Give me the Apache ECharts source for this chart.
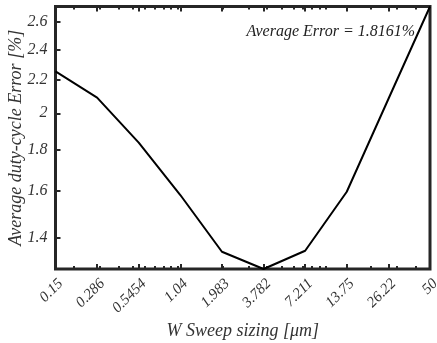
<!DOCTYPE html>
<html>
<head>
<meta charset="utf-8">
<script src="https://cdn.jsdelivr.net/npm/echarts@6/dist/echarts.min.js"></script>
<style>
html,body{margin:0;padding:0;background:#fff;}
#c{width:437px;height:343px;}
</style>
</head>
<body>
<div id="c"></div>
<script>
const xValues = [0.15, 0.286, 0.5454, 1.04, 1.983, 3.782, 7.211, 13.75, 26.22, 50];
const xLabels = ['0.15', '0.286', '0.5454', '1.04', '1.983', '3.782', '7.211', '13.75', '26.22', '50'];
const errValues = [2.256, 2.092, 1.838, 1.581, 1.343, 1.278, 1.347, 1.596, 2.084, 2.719];
const yTicks = [1.4, 1.6, 1.8, 2, 2.2, 2.4, 2.6];
const yLabels = ['1.4', '1.6', '1.8', '2', '2.2', '2.4', '2.6'];
const xMinorTicks = [0.2,0.3,0.4,0.5,0.6,0.7,0.8,0.9,1,2,3,4,5,6,7,8,9,10,20,30,40];
const yMinorTicks = [1.3,1.35,1.45,1.5,1.55,1.65,1.7,1.75,1.85,1.9,1.95,2.05,2.1,2.15,2.25,2.3,2.35,2.45,2.5,2.55,2.65,2.7];
const annotation = 'Average Error = 1.8161%';

const FONT = '"Liberation Serif","Times New Roman",serif';
const chart = echarts.init(document.getElementById('c'), null, {renderer: 'canvas'});

function xAx(pos, ticks, len, labels) {
  return {
    type: 'log', position: pos, min: 0.15, max: 50, logBase: 10,
    axisLine: {show: false},
    axisTick: {show: true, inside: true, length: len, customValues: ticks,
      lineStyle: {color: '#262626', width: 2}},
    axisLabel: labels ? {show: true, customValues: xValues, rotate: 45, margin: 7,
      align: 'right', verticalAlign: 'top',
      fontFamily: FONT, fontStyle: 'italic', fontSize: 15, color: '#333',
      formatter: v => { let b = 0; xValues.forEach((x, i) => { if (Math.abs(Math.log(x) - Math.log(v)) < Math.abs(Math.log(xValues[b]) - Math.log(v))) b = i; }); return xLabels[b]; }
    } : {show: false},
    splitLine: {show: false}, minorTick: {show: false}
  };
}
function yAx(pos, ticks, len, labels) {
  return {
    type: 'log', position: pos, logBase: 10,
    min: v => v.min, max: v => v.max,
    axisLine: {show: false},
    axisTick: {show: true, inside: true, length: len, customValues: ticks,
      lineStyle: {color: '#262626', width: 2}},
    axisLabel: labels ? {show: true, customValues: yTicks, margin: 8,
      fontFamily: FONT, fontStyle: 'italic', fontSize: 16, color: '#333',
      formatter: v => { let b = 0; yTicks.forEach((x, i) => { if (Math.abs(x - v) < Math.abs(yTicks[b] - v)) b = i; }); return yLabels[b]; }
    } : {show: false},
    splitLine: {show: false}, minorTick: {show: false}
  };
}

chart.setOption({
  animation: false,
  backgroundColor: '#fff',
  grid: {left: 55.5, top: 6.5, width: 374.5, height: 262.5, show: true,
    outerBoundsMode: 'none', containLabel: false,
    borderColor: '#262626', borderWidth: 3, backgroundColor: 'transparent'},
  xAxis: [
    Object.assign(xAx('bottom', xValues, 5, true), {name: 'W Sweep sizing [\u03bcm]', nameLocation: 'middle', nameGap: 53,
      nameMoveOverlap: false,
      nameTextStyle: {fontFamily: FONT, fontStyle: 'italic', fontSize: 18, color: '#333'}}),
    xAx('top', xValues, 5, false),
    Object.assign(xAx('bottom', xMinorTicks, 3, false), {offset: 0}),
    Object.assign(xAx('top', xMinorTicks, 3, false), {offset: 0})
  ],
  yAxis: [
    Object.assign(yAx('left', yTicks, 5, true), {name: 'Average duty-cycle Error [%]', nameLocation: 'middle', nameGap: 30,
      nameMoveOverlap: false,
      nameTextStyle: {fontFamily: FONT, fontStyle: 'italic', fontSize: 18, color: '#333'}}),
    yAx('right', yTicks, 5, false),
    Object.assign(yAx('left', yMinorTicks, 3, false), {offset: 0}),
    Object.assign(yAx('right', yMinorTicks, 3, false), {offset: 0})
  ],
  series: [{
    type: 'line', xAxisIndex: 0, yAxisIndex: 0,
    data: xValues.map((x, i) => [x, errValues[i]]),
    showSymbol: false, symbol: 'none',
    lineStyle: {color: '#000', width: 2}, z: 5
  }],
  graphic: [{
    type: 'text', right: 22, top: 24,
    style: {text: annotation, fontFamily: FONT, fontStyle: 'italic', fontSize: 16, fill: '#222'}
  }]
});
</script>
</body>
</html>
